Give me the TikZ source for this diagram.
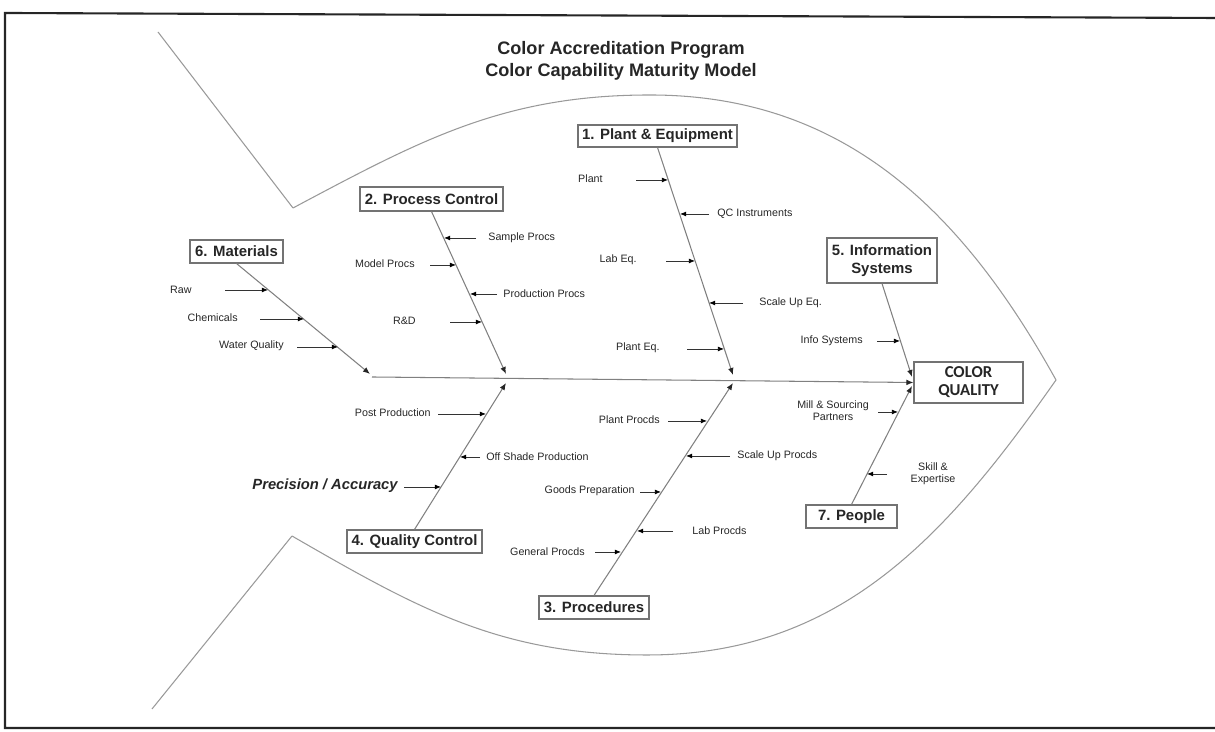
\documentclass[tikz,border=0pt]{standalone}
\usepackage{fontspec}
\setmainfont{Liberation Sans}
\newfontfamily\cqfont{Carlito}
\usetikzlibrary{arrows.meta}
\begin{document}
\begin{tikzpicture}[x=0.02cm,y=0.02cm,
  titlef/.style={font=\fontsize{10.3}{12}\selectfont\bfseries, text=black!85, inner sep=0pt},
  box/.style={draw=black!55, line width=0.6pt, inner sep=0pt, font=\fontsize{8.5}{10}\selectfont\bfseries, text=black!85, align=center},
  lbl/.style={font=\fontsize{6.1}{6.8}\selectfont, text=black!85, inner sep=0pt, align=center},
  sub/.style={draw=black!80, line width=0.45pt, -{Latex[length=3.5pt,width=2.8pt,color=black]}},
  bone/.style={draw=black!50, line width=0.6pt, -{Latex[length=4pt,width=3.2pt,color=black!85]}},
  fish/.style={draw=black!40, line width=0.6pt},
  frame/.style={draw=black!85, line width=1.2pt}
]
\useasboundingbox (0,0) rectangle (1215,732);
% frame
\draw[frame] (1215,714) -- (5,719) -- (5,4) -- (1215,4);
% title
\node[titlef] (t1) at (621,682) {Color Accreditation Program};
\node[titlef] (t2) at (621,660) {Color Capability Maturity Model};
% fish outline
\draw[fish] (158,700) -- (293,524);
\draw[fish] (152,23) -- (292,196);
\draw[fish] (293,524) to[out=28,in=180] (650,637) to[out=0,in=119] (1056,352)
  to[out=235,in=0] (647,77) to[out=180,in=-30] (292,196);
% main boxes
\node[box, minimum width=3.18cm, minimum height=0.44cm] (plant) at (657.5,596) {1. Plant \& Equipment};
\node[box, minimum width=2.86cm, minimum height=0.48cm] (proc) at (431.5,533) {2. Process Control};
\node[box, minimum width=1.86cm, minimum height=0.46cm] (mat) at (236.5,480.5) {6. Materials};
\node[box, minimum width=2.2cm, minimum height=0.9cm] (info) at (882,471.5) {5. Information\\Systems};
\node[box, minimum width=2.18cm, minimum height=0.82cm, font=\cqfont\fontsize{9.5}{10.2}\selectfont\bfseries] (cq) at (968.5,349.5) {COLOR\\QUALITY};
\node[box, minimum width=2.7cm, minimum height=0.46cm] (qc) at (414.5,190.5) {4. Quality Control};
\node[box, minimum width=2.2cm, minimum height=0.46cm] (pro) at (594,124.5) {3. Procedures};
\node[box, minimum width=1.82cm, minimum height=0.46cm] (peo) at (851.5,215.5) {7. People};
% junctions
\coordinate (spL) at (372,355);
\coordinate (jMat) at (370,358);
\coordinate (jProc) at (506,358);
\coordinate (jPlant) at (733,357);
\coordinate (jInfo) at (912,355);
\coordinate (jQc) at (506,349);
\coordinate (jPro) at (733,349);
\coordinate (jPeo) at (912,346);
% spine and bones
\draw[bone] (spL) -- (cq.west);
\draw[bone] (mat.south) -- (jMat);
\draw[bone] (proc.south) -- (jProc);
\draw[bone] (plant.south) -- (jPlant);
\draw[bone] (info.south) -- (jInfo);
\draw[bone] (qc.north) -- (jQc);
\draw[bone] (pro.north) -- (jPro);
\draw[bone] (peo.north) -- (jPeo);
% Materials
\node[lbl, anchor=east] (raw) at (192,442) {Raw};
\draw[sub] (225,442) coordinate (rawS) -- (268,442) coordinate (rawT);
\node[lbl, anchor=east] (chem) at (238,414) {Chemicals};
\draw[sub] (260,413) coordinate (chemS) -- (304,413) coordinate (chemT);
\node[lbl, anchor=east] (water) at (284,386) {Water Quality};
\draw[sub] (297,385) coordinate (waterS) -- (338,385) coordinate (waterT);
% Process Control
\node[lbl, anchor=west] (sample) at (488,494) {Sample Procs};
\draw[sub] (476,494) coordinate (sampleS) -- (444,494) coordinate (sampleT);
\node[lbl, anchor=east] (model) at (415,468) {Model Procs};
\draw[sub] (430,467) coordinate (modelS) -- (456,467) coordinate (modelT);
\node[lbl, anchor=west] (prodp) at (503,438) {Production Procs};
\draw[sub] (497,438) coordinate (prodpS) -- (470,438) coordinate (prodpT);
\node[lbl, anchor=east] (rd) at (416,411) {R\&D};
\draw[sub] (450,410) coordinate (rdS) -- (482,410) coordinate (rdT);
% Plant & Equipment
\node[lbl, anchor=east] (plnt) at (603,553) {Plant};
\draw[sub] (636,552) coordinate (plntS) -- (668,552) coordinate (plntT);
\node[lbl, anchor=west] (qci) at (717,518) {QC Instruments};
\draw[sub] (709,518) coordinate (qciS) -- (680,518) coordinate (qciT);
\node[lbl, anchor=east] (labeq) at (637,472) {Lab Eq.};
\draw[sub] (666,471) coordinate (labeqS) -- (695,471) coordinate (labeqT);
\node[lbl, anchor=west] (sueq) at (759,429) {Scale Up Eq.};
\draw[sub] (743,429) coordinate (sueqS) -- (709,429) coordinate (sueqT);
\node[lbl, anchor=east] (pleq) at (660,384) {Plant Eq.};
\draw[sub] (687,383) coordinate (pleqS) -- (724,383) coordinate (pleqT);
% Information Systems
\node[lbl, anchor=east] (infos) at (863,391) {Info Systems};
\draw[sub] (877,391) coordinate (infosS) -- (900,391) coordinate (infosT);
% People
\node[lbl, font=\fontsize{6.1}{6.9}\selectfont] (mill) at (833,321) {Mill \& Sourcing\\Partners};
\draw[sub] (878,320) coordinate (millS) -- (898,320) coordinate (millT);
\node[lbl, font=\fontsize{6.1}{6.9}\selectfont] (skill) at (933,258) {Skill \&\\Expertise};
\draw[sub] (887,258) coordinate (skillS) -- (867,258) coordinate (skillT);
% Quality Control
\node[lbl, anchor=east] (post) at (431,319) {Post Production};
\draw[sub] (438,318) coordinate (postS) -- (486,318) coordinate (postT);
\node[lbl, anchor=west] (off) at (486,275) {Off Shade Production};
\draw[sub] (480,275) coordinate (offS) -- (460,275) coordinate (offT);
\node[lbl, anchor=east, font=\fontsize{8.4}{10}\selectfont\bfseries\itshape] (prec) at (398,246) {Precision / Accuracy};
\draw[sub] (404,245) coordinate (precS) -- (441,245) coordinate (precT);
% Procedures
\node[lbl, anchor=east] (plpr) at (660,312) {Plant Procds};
\draw[sub] (668,311) coordinate (plprS) -- (707,311) coordinate (plprT);
\node[lbl, anchor=west] (supr) at (737,276) {Scale Up Procds};
\draw[sub] (730,276) coordinate (suprS) -- (686,276) coordinate (suprT);
\node[lbl, anchor=east] (goods) at (635,241) {Goods Preparation};
\draw[sub] (640,240) coordinate (goodsS) -- (661,240) coordinate (goodsT);
\node[lbl, anchor=west] (labpr) at (692,201) {Lab Procds};
\draw[sub] (673,201) coordinate (labprS) -- (637,201) coordinate (labprT);
\node[lbl, anchor=east] (genpr) at (585,180) {General Procds};
\draw[sub] (595,180) coordinate (genprS) -- (621,180) coordinate (genprT);
\end{tikzpicture}
\end{document}
